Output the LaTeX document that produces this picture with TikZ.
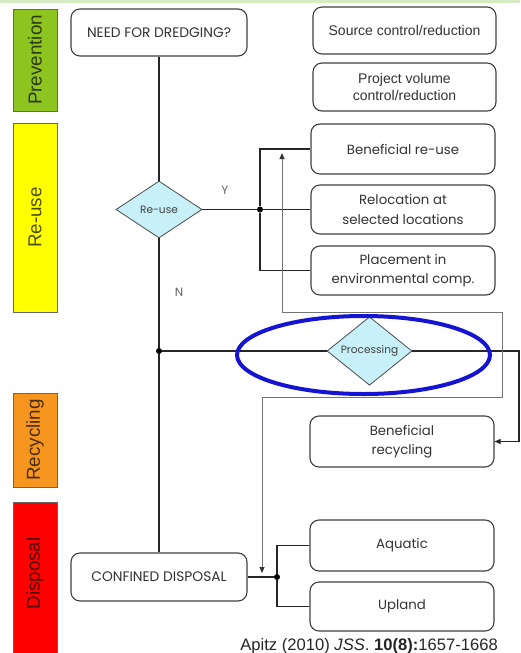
\documentclass[tikz,border=0pt]{standalone}
\usepackage{fontspec}
\setmainfont{Liberation Sans}
\newfontfamily\geo{Poppins}
\usetikzlibrary{shapes.geometric,arrows.meta}

\definecolor{prevgreen}{RGB}{142,196,32}
\definecolor{reuseyellow}{RGB}{255,255,0}
\definecolor{recyorange}{RGB}{247,150,30}
\definecolor{disred}{RGB}{255,0,0}
\definecolor{stripgreen}{RGB}{214,234,196}
\definecolor{diafill}{RGB}{200,240,248}
\definecolor{ringblue}{RGB}{20,20,210}

\begin{document}
\begin{tikzpicture}[x=1pt,y=-1pt,
  box/.style={draw=black!75, line width=1.1pt, rounded corners=9pt, fill=white,
    align=center, inner sep=0pt, minimum width=184pt, text=black!80,
    font=\geo\fontsize{13.3}{19.5}\selectfont},
  capsbox/.style={box, minimum width=176pt, font=\geo\fontsize{13.8}{16}\selectfont},
  arialbox/.style={box, minimum width=183pt, font=\fontsize{14}{17.5}\selectfont},
  decision/.style={diamond, draw=black!70, line width=0.8pt, fill=diafill, inner sep=0pt,
    text=black!75, font=\geo\fontsize{10.6}{12}\selectfont},
  stage/.style={draw=black!60, line width=0.6pt},
  stagelabel/.style={rotate=90, inner sep=0pt, text=black, text opacity=0.7,
    font=\fontsize{18.8}{20}\selectfont},
  link/.style={draw=black!85, line width=1.1pt},
  feed/.style={draw=black!55, line width=0.9pt, {Triangle[length=6pt,width=5pt,color=black!80]}-{Triangle[length=6pt,width=5pt,color=black!80]}},
  dot/.style={circle, fill=black, inner sep=0pt, minimum size=6pt},
  yn/.style={text=black!60, font=\geo\fontsize{12}{14}\selectfont},
]
\useasboundingbox (0,0) rectangle (520,653);
\fill[white] (0,0) rectangle (520,653);
\fill[stripgreen] (0,0) rectangle (520,3);

% stage bars on the left
\filldraw[stage, fill=prevgreen]   (13,9)   rectangle (57,111);
\filldraw[stage, fill=reuseyellow] (13,123) rectangle (57,312);
\filldraw[stage, fill=recyorange]  (13,393) rectangle (57,487);
\filldraw[stage, fill=disred]      (13,502) rectangle (57,660);
\node[stagelabel] (lprev) at (35,60)    {Prevention};
\node[stagelabel] (lreus) at (35,217.5) {Re-use};
\node[stagelabel] (lrecy) at (35,440)   {Recycling};
\node[stagelabel] (ldisp) at (35,573.5) {Disposal};

% main column
\node[capsbox, minimum height=47pt] (need) at (159,32.5) {NEED FOR DREDGING?};
\node[decision, minimum width=86pt, minimum height=57pt] (reuse) at (159,209.5) {Re-use};
\node[dot] (d2) at (159,351) {};
\node[capsbox, minimum height=48pt] (conf) at (159,577) {CONFINED DISPOSAL};

% right column
\node[arialbox, minimum height=47pt] (src)  at (404.5,30.5) {Source control/reduction};
\node[arialbox, minimum height=48pt] (proj) at (404.5,87) {Project volume\\control/reduction};
\node[box, minimum height=50pt] (benre)  at (403,149)   {Beneficial re-use};
\node[box, minimum height=49pt] (reloc)  at (403,209.5) {Relocation at\\selected locations};
\node[box, minimum height=49pt] (place)  at (403,270.5) {Placement in\\environmental comp.};
\node[box, minimum height=51pt] (benrec) at (402,441.5) {Beneficial\\recycling};
\node[box, minimum height=51pt] (aqua)   at (402,545.5) {Aquatic};
\node[box, minimum height=49pt] (upl)    at (402,606.5) {Upland};

\node[decision, minimum width=85pt, minimum height=56pt] (proc) at (369.5,351) {Processing};

% junctions
\node[dot] (j1) at (260,209.5) {};
\node[dot] (j3) at (277,577) {};
\coordinate (c1) at (519,351);
\coordinate (ftop) at (282,153);
\coordinate (fbot) at (262,573);

% connectors
\draw[link] (need) -- (reuse);
\draw[link] (reuse.south) -- (d2) -- (conf.north);
\draw[link] (reuse.east) -- (j1) -- (reloc.west);
\draw[link] (benre.west) -| (j1) |- (place.west);
\draw[link] (d2) -- (proc.west);
\draw[link, -{Triangle[length=6pt,width=5pt]}] (proc.east) -- (c1) |- (benrec.east);
\draw[link] (conf.east) -- (j3);
\draw[link] (aqua.west) -| (j3) |- (upl.west);
\draw[feed] (ftop) -- (282,312) -- (502,312) -- (502,397) -- (262,397) -- (fbot);

\node[yn] (ylab) at (225,190) {Y};
\node[yn] (nlab) at (179,292) {N};

% highlight ring
\draw[ringblue, line width=4pt] (363.5,355) ellipse [x radius=126.5pt, y radius=39pt];

% source
\node[anchor=base east, inner sep=0pt, text=black!85, font=\fontsize{16.6}{18}\selectfont]
  (cite) at (498,650) {Apitz (2010) \textit{JSS}. \textbf{10(8):}1657-1668};
\end{tikzpicture}
\end{document}
